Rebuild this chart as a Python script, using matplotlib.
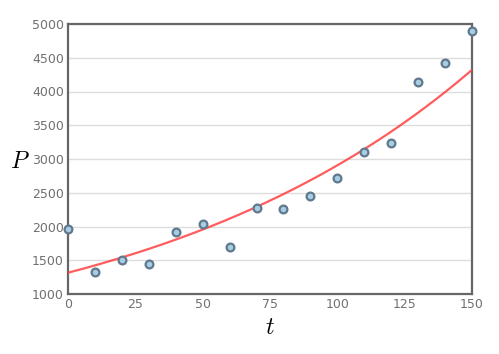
import numpy as np
import matplotlib
matplotlib.use("Agg")
import matplotlib.pyplot as plt

plt.rcParams["mathtext.fontset"] = "cm"

# data
t = [0, 10, 20, 30, 40, 50, 60, 70, 80, 90, 100, 110, 120, 130, 140, 150]
P = [1960, 1325, 1500, 1445, 1918, 2035, 1690, 2272, 2255, 2447, 2725, 3100, 3242, 4145, 4417, 4890]

# exponential fit curve P = a * exp(b * t), parameters
fit_a = 1315
fit_b = 0.00793

x_ticks = [0, 25, 50, 75, 100, 125, 150]
y_ticks = [1000, 1500, 2000, 2500, 3000, 3500, 4000, 4500, 5000]

fig = plt.figure(figsize=(4.99, 3.54), dpi=100)
ax = fig.add_axes([68 / 499, 60 / 354, 404 / 499, 270 / 354])

tt = np.linspace(0, 150, 300)
ax.plot(tt, fit_a * np.exp(fit_b * tt), color="#ff4040", lw=1.6, alpha=0.85, zorder=3)
ax.plot(t, P, "o", ms=5.6, mfc="#a6cde0", mec="#61788e", mew=1.6, zorder=4, clip_on=False)

ax.set_xlim(0, 150)
ax.set_ylim(1000, 5000)
ax.set_xticks(x_ticks)
ax.set_yticks(y_ticks)
ax.yaxis.grid(True, color="#dddddd", lw=1)
ax.set_axisbelow(True)
for s in ax.spines.values():
    s.set_color("#666666")
    s.set_linewidth(1.6)
ax.tick_params(length=0, labelsize=9, labelcolor="#707070", pad=3)

ax.set_xlabel("$t$", fontsize=17, labelpad=3)
ax.set_ylabel("$P$", fontsize=17, rotation=0, labelpad=14)
ax.yaxis.set_label_coords(-0.12, 0.45)

fig.savefig("out.png", dpi=100)
